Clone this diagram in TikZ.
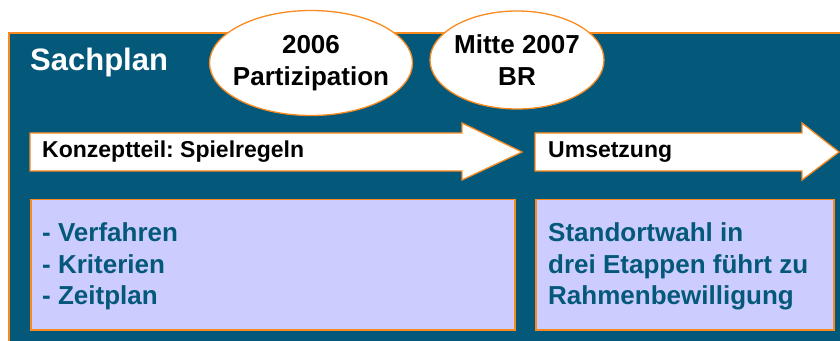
\documentclass[tikz,border=0pt]{standalone}
\usepackage{fontspec}
\setmainfont{Liberation Sans}
\usetikzlibrary{positioning, shapes.geometric, calc}
\frenchspacing
\definecolor{petrol}{HTML}{04587A}
\definecolor{rim}{HTML}{F98A1E}
\definecolor{lilac}{HTML}{CCCCFF}
\tikzset{
  frame/.style={draw=rim, fill=petrol, line width=1.3pt},
  oval/.style={ellipse, draw=rim, line width=1.3pt, fill=white, text=black,
    font=\bfseries\fontsize{26}{32}\selectfont, align=center, inner xsep=-8pt, inner ysep=0pt},
  arrowbar/.style={draw=rim, line width=1.3pt, fill=white, line join=miter},
  phase/.style={font=\bfseries\fontsize{23}{27}\selectfont, text=black, anchor=west, inner sep=0pt},
  panel/.style={draw=rim, line width=1.5pt, fill=lilac, anchor=north west, inner sep=0pt},
  paneltxt/.style={font=\bfseries\fontsize{26}{31.5}\selectfont, text=petrol, align=left,
    anchor=west, inner sep=0pt},
  ttl/.style={font=\bfseries\fontsize{31}{36}\selectfont, text=white, anchor=west, inner sep=0pt},
}

\begin{document}
\begin{tikzpicture}[x=1pt, y=1pt]
  \useasboundingbox (0,0) rectangle (840,340);
  \clip (0,0) rectangle (840,340);
  % background panel
  \draw[frame] (9,-20) rectangle (870,307);
  \node[ttl] (title) at (30,278) {Sachplan};
  % milestones
  \node[oval, minimum width=203pt, minimum height=105pt] (part) at (311,277) {2006\\Partizipation};
  \node[oval, minimum width=174pt, minimum height=98pt] (br) at (517,280) {Mitte 2007\\BR};
  % phase arrows
  \draw[arrowbar] (30,169) -- (30,207) -- (462,207) -- (462,217) -- (522,188)
    -- (462,160) -- (462,169) -- cycle;
  \node[phase] (konzept) at (42,188) {Konzeptteil: Spielregeln};
  \draw[arrowbar] (535,169) -- (535,207) -- (802,207) -- (802,217) -- (839,188)
    -- (802,160) -- (802,169) -- cycle;
  \node[phase] (umsetz) at (548,188) {Umsetzung};
  % content boxes
  \node[panel, minimum width=484pt, minimum height=130pt] (rules) at (30,141) {};
  \node[paneltxt, right=12pt of rules.west, yshift=-2pt] (rulestxt) {- Verfahren\\- Kriterien\\- Zeitplan};
  \node[panel, minimum width=298pt, minimum height=130pt] (site) at (535,141) {};
  \node[paneltxt, right=13pt of site.west, yshift=-2pt] (sitetxt) {Standortwahl in\\drei Etappen führt zu\\Rahmenbewilligung};
\end{tikzpicture}
\end{document}
